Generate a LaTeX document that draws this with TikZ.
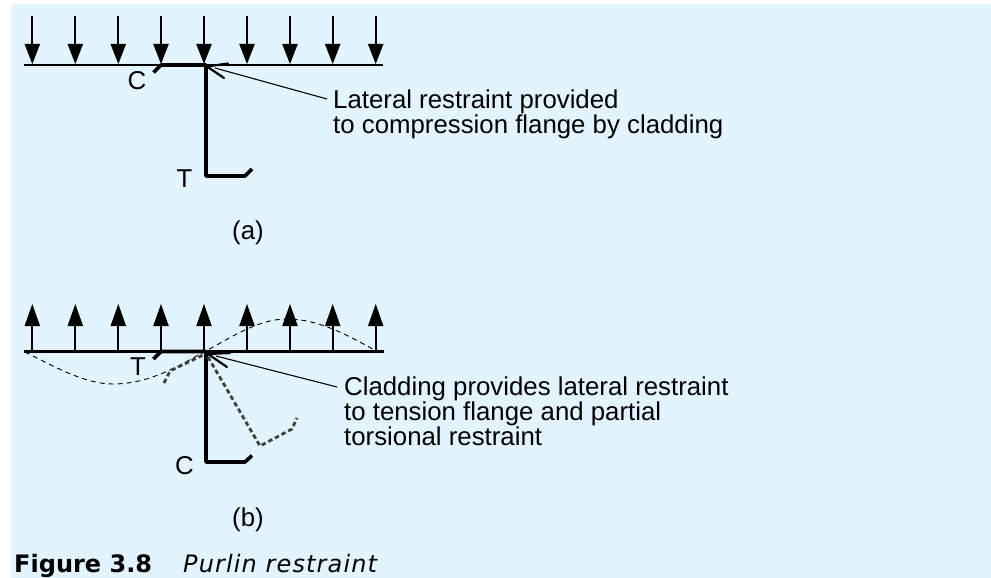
\documentclass[tikz,border=0pt]{standalone}
\usepackage{fontspec}
\newfontfamily\lblfont{Liberation Sans}
\newfontfamily\capfont{DejaVu Sans}
\newfontfamily\capital[LetterSpace=4.7]{DejaVu Sans}
\definecolor{bgblue}{RGB}{226,244,255}
\tikzset{x=1pt,y=-1pt,
 lbl/.style={font=\lblfont\fontsize{25.8}{24}\selectfont,inner sep=0pt,align=left,anchor=north west},
 thin line/.style={line width=2.1pt,black},
 thick line/.style={line width=3.6pt,black,line join=round},
 leader/.style={line width=1.1pt,black},
 chevron/.style={line width=2.2pt,black,line cap=round},
 dashcurve/.style={line width=0.9pt,black,dash pattern=on 5pt off 4pt},
 dashprof/.style={line width=2.8pt,black!75,dash pattern=on 4.5pt off 3pt},
}
\newcommand{\downarr}[3]{\draw[thin line] (#1,#2) -- (#1,#3-18);\fill (#1-7.8,#3-20) -- (#1+7.8,#3-20) -- (#1,#3) -- cycle;}
\newcommand{\uparr}[3]{\draw[thin line] (#1,#2) -- (#1,#3+18);\fill (#1-7.8,#3+22) -- (#1+7.8,#3+22) -- (#1,#3) -- cycle;}
\begin{document}
\begin{tikzpicture}
\useasboundingbox (0,0) rectangle (991,578);
\fill[bgblue] (11,4) rectangle (991,578);
% (a)
\foreach \x in {32.3,75.3,118.3,161,204,247,290,332.7,375.7}{\downarr{\x}{16}{64}}
\draw[thin line] (24,65) -- (383,65);
\draw[thick line] (153.5,72.5) -- (161,65) -- (206,65) -- (206,176) -- (245,176) -- (252,169);
\draw[leader] (327,99) -- (215,68);
\draw[chevron] (228,63.5) -- (207,66.5) -- (224,78);
\node[lbl,anchor=center] (c1) at (137,81) {C};
\node[lbl,anchor=center] (t1) at (184.5,179) {T};
\node[lbl] (la) at (333,90) {Lateral restraint provided\\to compression flange by cladding};
\node[lbl,anchor=center] (sa) at (248,233) {(a)};
% (b)
\foreach \x in {32.3,75.3,118.3,161,204,247,290,332.7,375.7}{\uparr{\x}{351}{304}}
\draw[thin line] (24,351.5) -- (384,351.5);
\draw[dashcurve] (25,352) .. controls (55,367) and (85,384) .. (113,384) .. controls (150,384) and (180,365) .. (204,352) .. controls (232,337) and (258,319) .. (287,319) .. controls (318,319) and (348,335) .. (376,351);
\draw[thick line] (153.5,359) -- (161,351.5) -- (206,351.5) -- (206,462) -- (245,462) -- (252,455.5);
\draw[dashprof] (164,383) -- (170,371) -- (203,355);
\draw[dashprof] (208,357) -- (260,446) -- (292,429) -- (297,418);
\draw[leader] (337,387) -- (216,356);
\draw[chevron] (230,353) -- (208,354) -- (227,367);
\node[lbl,anchor=center] (t2) at (138,366.5) {T};
\node[lbl,anchor=center] (c2) at (184.5,466) {C};
\node[lbl] (lb) at (344,377) {Cladding provides lateral restraint\\to tension flange and partial\\torsional restraint};
\node[lbl,anchor=center] (sb) at (248,520) {(b)};
% caption
\node[font=\capfont\fontsize{24}{24}\selectfont\bfseries,inner sep=0pt,anchor=base west] (f) at (14,572) {Figure 3.8};
\node[font=\capital\fontsize{24}{24}\selectfont\itshape,inner sep=0pt,anchor=base west] (p) at (183,572) {Purlin restraint};
\end{tikzpicture}
\end{document}
